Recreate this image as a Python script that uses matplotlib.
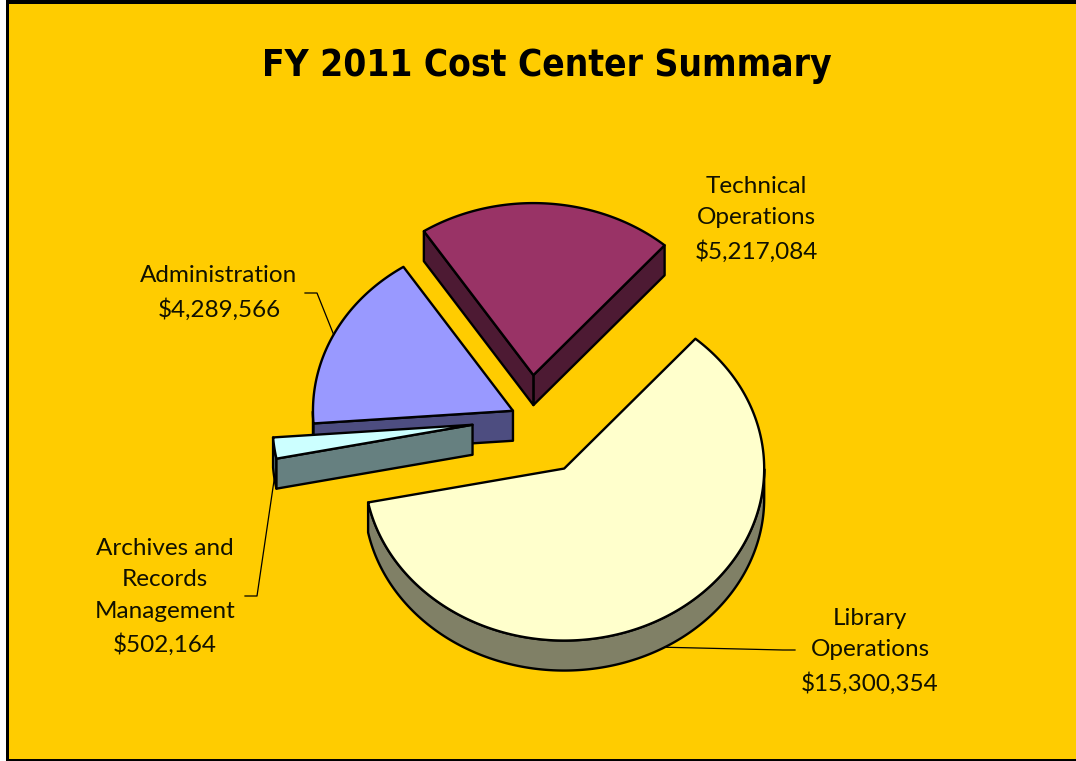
import numpy as np
import matplotlib
matplotlib.use("Agg")
import matplotlib.pyplot as plt
from matplotlib.patches import Polygon, Rectangle
from matplotlib import font_manager

# ---- data ----
categories = ["Technical\nOperations", "Administration",
              "Archives and\nRecords\nManagement", "Library\nOperations"]
values = [5217084, 4289566, 502164, 15300354]
top_colors = ["#993366", "#9999FF", "#CCFFFF", "#FFFFCC"]
side_colors = ["#4D1A33", "#4D4D80", "#668080", "#808066"]
explode = [50, 19, 58, 68]          # pull-out distance of each slice (px)
label_xy = [(756, 219), (219, 293), (165, 597), (870, 651)]
leader_elbow = [None, (305, 293), (245, 596), (795, 650)]
title_text = "FY 2011 Cost Center Summary"

W, H = 1076, 761
BG = "#FFCC00"

fig = plt.figure(figsize=(W / 100, H / 100), dpi=100)
fig.patch.set_facecolor(BG)
ax = fig.add_axes([0, 0, 1, 1])
ax.set_xlim(0, W)
ax.set_ylim(H, 0)
ax.axis("off")

# frame
ax.add_patch(Rectangle((0, 0), 6, H, facecolor="white", edgecolor="none", zorder=0))
ax.add_patch(Rectangle((6, 0), 3, H, facecolor="black", edgecolor="none", zorder=0))
ax.add_patch(Rectangle((6, 0), W - 6, 4, facecolor="black", edgecolor="none", zorder=0))
ax.add_patch(Rectangle((6, H - 2), W - 6, 2, facecolor="black", edgecolor="none", zorder=0))

# ---- 3-D pie geometry ----
cx, cy = 530.0, 418.0
R = 200.0
k = 0.86          # vertical squash from the viewing tilt
depth = 30.0      # slice thickness
start = 49.0      # angle of first slice edge (deg, counter-clockwise)
lw = 1.7

total = float(sum(values))
spans = [v / total * 360.0 for v in values]
bounds = np.concatenate([[start], start + np.cumsum(spans)])


def pt(ox, oy, th, dz=0.0):
    t = np.radians(th)
    return ox + R * np.cos(t), oy - k * R * np.sin(t) + dz


slices = []
for i, v in enumerate(values):
    a, b = bounds[i], bounds[i + 1]
    mid = np.radians((a + b) / 2)
    ox = cx + explode[i] * np.cos(mid)
    oy = cy - k * explode[i] * np.sin(mid)
    slices.append((i, a, b, ox, oy))


# back-to-front order by screen depth of the slice centre
def centre_y(s):
    i, a, b, ox, oy = s
    th = np.linspace(a, b, 50)
    return np.mean([pt(ox, oy, t)[1] for t in th] + [oy])


for i, a, b, ox, oy in sorted(slices, key=centre_y):
    ec = dict(edgecolor="black", linewidth=lw, joinstyle="round")
    th = np.linspace(a, b, max(int((b - a) * 2), 4))
    # visible outer rim (front half of the disc)
    front = np.sin(np.radians(th)) <= 1e-9
    runs, cur = [], []
    for t, f in zip(th, front):
        if f:
            cur.append(t)
        elif cur:
            runs.append(cur)
            cur = []
    if cur:
        runs.append(cur)
    for run in runs:
        if len(run) < 2:
            continue
        top = [pt(ox, oy, t) for t in run]
        bot = [pt(ox, oy, t, depth) for t in run[::-1]]
        ax.add_patch(Polygon(top + bot, closed=True, facecolor=side_colors[i], zorder=2, **ec))
    # radial faces facing the viewer
    if np.cos(np.radians(a)) > 0:
        p = pt(ox, oy, a)
        ax.add_patch(Polygon([(ox, oy), p, (p[0], p[1] + depth), (ox, oy + depth)],
                             closed=True, facecolor=side_colors[i], zorder=2, **ec))
    if np.cos(np.radians(b)) < 0:
        p = pt(ox, oy, b)
        ax.add_patch(Polygon([(ox, oy), p, (p[0], p[1] + depth), (ox, oy + depth)],
                             closed=True, facecolor=side_colors[i], zorder=2, **ec))
    # top face
    topface = [(ox, oy)] + [pt(ox, oy, t) for t in th]
    ax.add_patch(Polygon(topface, closed=True, facecolor=top_colors[i], zorder=2, **ec))

# ---- labels ----
names = {f.name for f in font_manager.fontManager.ttflist}
label_font = "Lato" if "Lato" in names else "DejaVu Sans"

for i, (a, b) in enumerate(zip(bounds[:-1], bounds[1:])):
    txt = f"{categories[i]}\n${values[i]:,}"
    lx, ly = label_xy[i]
    ax.text(lx, ly, txt, ha="center", va="center", multialignment="center",
            fontsize=17.5, family=label_font, color="#111100", linespacing=1.62, zorder=5)
    if leader_elbow[i] is not None:
        mid = (a + b) / 2
        _, _, _, ox, oy = slices[i]
        dz = depth if np.sin(np.radians(mid)) < 0 else 0.0
        tx, ty = pt(ox, oy, mid, dz)
        ex, ey = leader_elbow[i]
        hx = ex + (12 if ex < tx else -12)
        ax.plot([ex, hx, tx], [ey, ey, ty], color="black", lw=0.9, zorder=4)

# ---- title ----
title = ax.text(547, 66, title_text, ha="center", va="center", fontsize=30,
                fontweight="bold", fontstretch="condensed", family="DejaVu Sans", zorder=5)
fig.canvas.draw()
w = title.get_window_extent().width
if w > 0:
    title.set_fontsize(30 * min(1.0, 570.0 / w))

fig.savefig("out.png", dpi=100, facecolor=BG)
